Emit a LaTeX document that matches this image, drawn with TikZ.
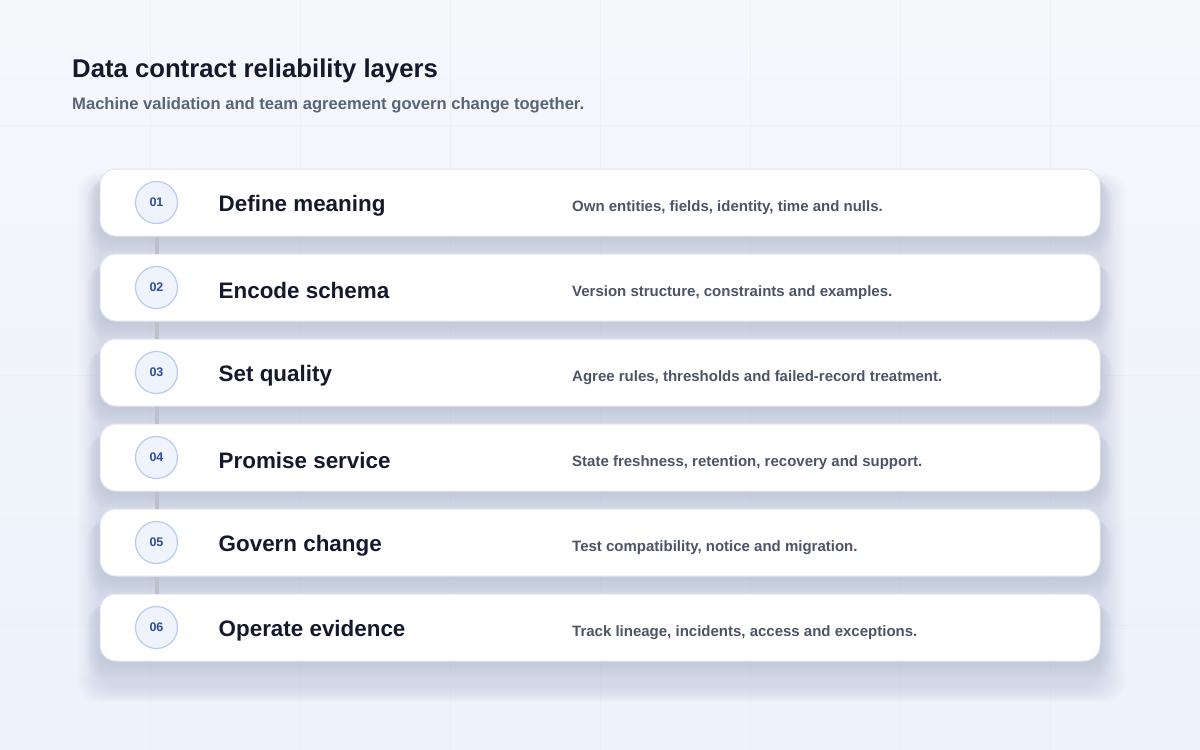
\documentclass[tikz,border=0pt]{standalone}
\usepackage{fontspec}
\setmainfont{Liberation Sans}
\usetikzlibrary{positioning,calc}
\definecolor{bgA}{HTML}{F5F7FB}
\definecolor{bgB}{HTML}{EDF2FB}
\definecolor{gridc}{HTML}{E8ECF3}
\definecolor{titlec}{HTML}{141A2B}
\definecolor{subc}{HTML}{5A6477}
\definecolor{descc}{HTML}{4B5567}
\definecolor{cardedge}{HTML}{E2E6EF}
\definecolor{circfill}{HTML}{EEF3FC}
\definecolor{circedge}{HTML}{B8CCEF}
\definecolor{numc}{HTML}{2E4F95}
\definecolor{linkc}{HTML}{BCC0CA}
\definecolor{shadowc}{HTML}{9AA3BC}
\tikzset{
  card/.style={draw=cardedge, line width=1pt, fill=white, rounded corners=16pt,
    minimum width=1000pt, minimum height=67pt, inner sep=0pt},
  badge/.style={circle, draw=circedge, line width=1.2pt, fill=circfill,
    minimum size=42pt, inner sep=0pt, text=numc, font=\fontsize{12.5}{14}\selectfont\bfseries},
  cardtitle/.style={anchor=west, text=titlec, inner sep=0pt, font=\fontsize{22.4}{26}\selectfont\bfseries},
  carddesc/.style={anchor=west, text=descc, inner sep=0pt, font=\fontsize{15}{17}\selectfont\bfseries},
  link/.style={draw=linkc, line width=4pt},
}
\begin{document}
\begin{tikzpicture}[x=1pt,y=-1pt]
\useasboundingbox (0,0) rectangle (1200,750);
\shade[left color=bgA, right color=bgB, shading angle=0] (0,0) rectangle (1200,750);
\shade[top color=bgA, bottom color=bgB, opacity=0.6] (0,0) rectangle (1200,750);
% faint grid
\foreach \gx in {150,300,...,1050} \draw[gridc, line width=0.8pt, opacity=0.5] (\gx,0) -- (\gx,750);
\foreach \gy in {125,375,625} \draw[gridc, line width=0.8pt, opacity=0.5] (0,\gy) -- (1200,\gy);
% soft backdrop shadow behind the stack
\foreach \i in {0,...,9} {
  \fill[shadowc, opacity=0.03, rounded corners=20pt]
    ($(100,182)+(-\i*2.5,-\i*1)$) rectangle ($(1100,688)+(\i*2.8,\i*1.5)$);
}
% title
\node[anchor=base west, inner sep=0pt, text=titlec, font=\fontsize{25.7}{30}\selectfont\bfseries] (title) at (72,77) {Data contract reliability layers};
\node[anchor=base west, inner sep=0pt, text=subc, font=\fontsize{16.6}{19}\selectfont\bfseries] (sub) at (72,109.5) {Machine validation and team agreement govern change together.};
% cards
\foreach \n/\t/\d [count=\k from 0] in {
  01/Define meaning/{Own entities, fields, identity, time and nulls.},
  02/Encode schema/{Version structure, constraints and examples.},
  03/Set quality/{Agree rules, thresholds and failed-record treatment.},
  04/Promise service/{State freshness, retention, recovery and support.},
  05/Govern change/{Test compatibility, notice and migration.},
  06/Operate evidence/{Track lineage, incidents, access and exceptions.}} {
  \pgfmathsetmacro{\cy}{202.5+85*\k}
  \foreach \j in {1,...,7} {
    \fill[shadowc, opacity=0.04, rounded corners=18pt]
      (100-\j*1.8, \cy-30+\j*1.2) rectangle (1100+\j*1.8, \cy+35+\j*2.2);
  }
  \node[card] (card\n) at (600,\cy) {};
  \node[badge] (badge\n) at (156.5,\cy) {\n};
  \node[cardtitle] (title\n) at (218.5,\cy+3) {\t};
  \node[carddesc] (desc\n) at (572,\cy+5.5) {\d};
}
% connectors between badges
\foreach \a/\b in {01/02,02/03,03/04,04/05,05/06} {
  \draw[link] (card\a.south -| badge\a) -- (card\b.north -| badge\b);
}
\end{tikzpicture}
\end{document}
